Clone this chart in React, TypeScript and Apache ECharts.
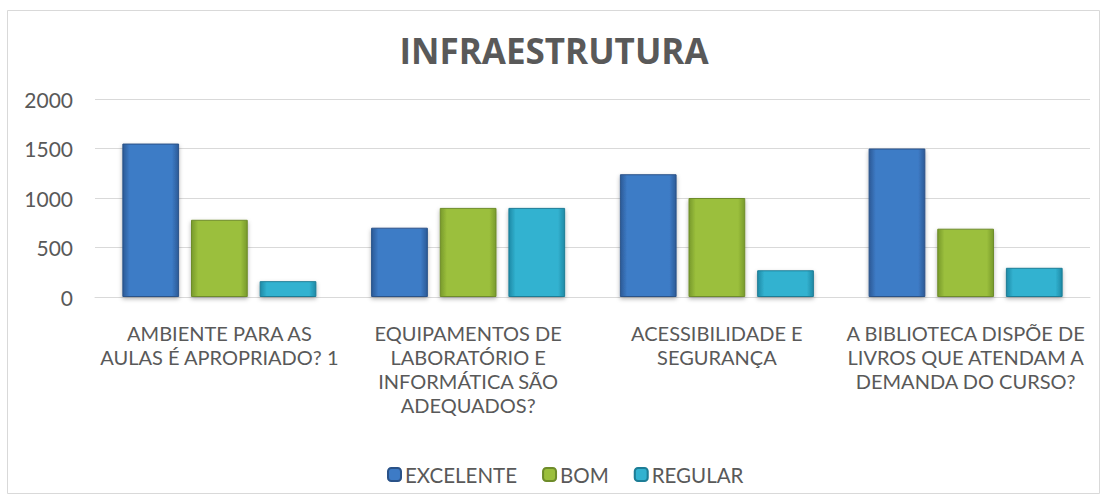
import React, { useEffect, useRef } from "react";
import * as echarts from "echarts";

const categories = [
  "AMBIENTE PARA AS\nAULAS É APROPRIADO? 1",
  "EQUIPAMENTOS DE\nLABORATÓRIO E\nINFORMÁTICA SÃO\nADEQUADOS?",
  "ACESSIBILIDADE E\nSEGURANÇA",
  "A BIBLIOTECA DISPÕE DE\nLIVROS QUE ATENDAM A\nDEMANDA DO CURSO?",
];
const seriesNames = ["EXCELENTE", "BOM", "REGULAR"];
const excelente = [1550, 700, 1240, 1500];
const bom = [780, 900, 1000, 690];
const regular = [160, 900, 270, 295];
const yTicks = [0, 500, 1000, 1500, 2000];

const FONT = "'Open Sans', 'Noto Sans', sans-serif";
const LABEL_FONT = "Lato, 'Open Sans', sans-serif";

function grad(edge: string, mid: string) {
  return new echarts.graphic.LinearGradient(0, 0, 1, 0, [
    { offset: 0, color: edge },
    { offset: 0.12, color: mid },
    { offset: 0.88, color: mid },
    { offset: 1, color: edge },
  ]);
}

export default function App() {
  const ref = useRef<HTMLDivElement>(null);
  useEffect(() => {
    document.body.style.margin = "0";
    const chart = echarts.init(ref.current!, undefined, { renderer: "svg" });
    const styles = [
      { edge: "#2c5a96", mid: "#3d7bc6", border: "#2a5288" },
      { edge: "#789a2c", mid: "#9bbf3c", border: "#6e8c2a" },
      { edge: "#1f8aa6", mid: "#32b2d0", border: "#1d7d96" },
    ];
    const data = [excelente, bom, regular];
    chart.setOption({
      animation: false,
      backgroundColor: "#ffffff",
      title: {
        text: "INFRAESTRUTURA",
        left: "center",
        top: 28,
        textStyle: { fontFamily: FONT, fontSize: 35, fontWeight: "bold", color: "#595959" },
      },
      graphic: [
        {
          type: "rect",
          shape: { x: 7.5, y: 10.5, width: 1092, height: 483 },
          style: { fill: "none", stroke: "#d9d9d9", lineWidth: 1 },
          silent: true,
        },
      ],
      legend: {
        top: 459,
        left: 382,
        itemWidth: 13,
        itemHeight: 13,
        itemGap: 25,
        textStyle: { fontFamily: LABEL_FONT, fontSize: 20.5, color: "#595959", padding: [0, 0, 0, -1] },
        data: seriesNames,
      },
      grid: { left: 95, right: 18, top: 99, bottom: 207 },
      xAxis: {
        type: "category",
        data: categories,
        axisLine: { lineStyle: { color: "#d9d9d9" } },
        axisTick: { show: false },
        axisLabel: {
          interval: 0,
          margin: 24,
          fontFamily: LABEL_FONT,
          fontSize: 20,
          lineHeight: 24,
          color: "#595959",
          align: "center",
        },
      },
      yAxis: {
        type: "value",
        min: yTicks[0],
        max: yTicks[yTicks.length - 1],
        interval: 500,
        axisLine: { show: false },
        axisTick: { show: false },
        splitLine: { lineStyle: { color: "#d9d9d9", width: 1 } },
        axisLabel: {
          fontFamily: LABEL_FONT,
          fontSize: 21,
          color: "#595959",
          margin: 22,
          formatter: (v: number) => String(v),
        },
      },
      series: seriesNames.map((name, i) => ({
        name,
        type: "bar",
        data: data[i],
        barGap: "21%",
        barCategoryGap: "22%",
        itemStyle: {
          color: grad(styles[i].edge, styles[i].mid),
          borderColor: styles[i].border,
          borderWidth: 1,
          shadowBlur: 4,
          shadowColor: "rgba(0,0,0,0.3)",
          shadowOffsetY: 2,
        },
      })),
    });
    return () => chart.dispose();
  }, []);
  return <div ref={ref} style={{ width: 1108, height: 504 }} />;
}
